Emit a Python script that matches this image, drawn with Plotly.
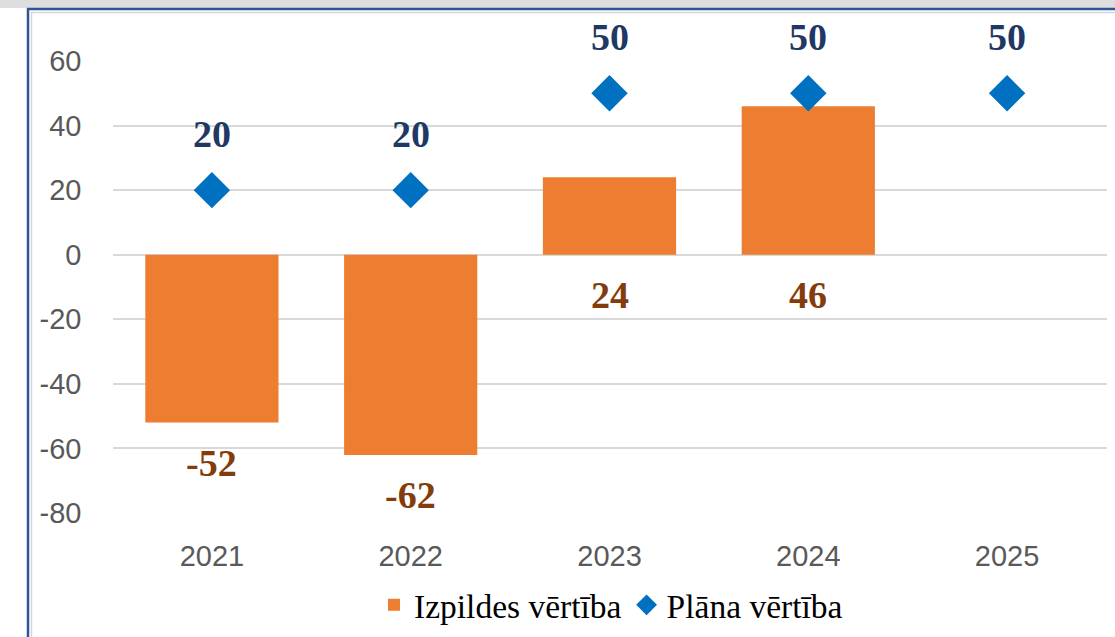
import plotly.graph_objects as go

years = ["2021", "2022", "2023", "2024", "2025"]
actual = [-52, -62, 24, 46, None]
plan = [20, 20, 50, 50, 50]
y_ticks = [-80, -60, -40, -20, 0, 20, 40, 60]
y_tick_text = ["-80", "-60", "-40", "-20", "0", "20", "40", "60"]

W, H = 1115, 637
ORANGE = "#ED7D31"
BLUE = "#0070C0"
GRID = "#D9D9D9"

fig = go.Figure()
fig.add_trace(go.Bar(
    x=years, y=actual, name="Izpildes vērtība",
    marker=dict(color=ORANGE, line=dict(width=0)),
    width=0.67,
))
fig.add_trace(go.Scatter(
    x=years, y=plan, name="Plāna vērtība", mode="markers",
    marker=dict(symbol="diamond", color=BLUE, size=28, line=dict(width=0)),
))

annotations = []
# on a category axis, annotation x is given as the category index
for i, p in enumerate(plan):
    annotations.append(dict(
        x=i, y=p, xref="x", yref="y", text=str(p), showarrow=False,
        yshift=56, font=dict(family="Liberation Serif", size=38, color="#1F3864", weight="bold"),
        xanchor="center", yanchor="middle",
    ))
for i, a in enumerate(actual):
    if a is None:
        continue
    annotations.append(dict(
        x=i, y=min(a, 0), xref="x", yref="y", text=str(a), showarrow=False,
        yshift=-40, font=dict(family="Liberation Serif", size=38, color="#843C0C", weight="bold"),
        xanchor="center", yanchor="middle",
    ))

shapes = [
    dict(type="rect", xref="paper", yref="paper", x0=0, x1=1, y0=1 - 8 / H, y1=1,
         fillcolor="#DEDEDE", line=dict(width=0), layer="below"),
    dict(type="line", xref="paper", yref="paper", x0=27 / W, x1=1, y0=1 - 9 / H, y1=1 - 9 / H,
         line=dict(color="#2F5597", width=2.5)),
    dict(type="line", xref="paper", yref="paper", x0=28 / W, x1=28 / W, y0=0, y1=1 - 8 / H,
         line=dict(color="#2F5597", width=2.5)),
    dict(type="line", xref="paper", yref="paper", x0=31 / W, x1=1, y0=1 - 12.5 / H, y1=1 - 12.5 / H,
         line=dict(color="#D0D8E4", width=1.5)),
    dict(type="line", xref="paper", yref="paper", x0=31.5 / W, x1=31.5 / W, y0=0, y1=1 - 12 / H,
         line=dict(color="#D0D8E4", width=1.5)),
]

fig.update_layout(
    width=W, height=H,
    margin=dict(l=0, r=0, t=0, b=0, pad=0, autoexpand=False),
    paper_bgcolor="white", plot_bgcolor="white",
    bargap=0.33,
    showlegend=True,
    legend=dict(
        orientation="h", x=0.548, xanchor="center", y=1 - 605 / H, yanchor="middle",
        font=dict(family="Liberation Serif", size=33.5, color="#000000"),
        itemwidth=30, tracegroupgap=0, bgcolor="rgba(0,0,0,0)",
    ),
    xaxis=dict(
        type="category", range=[-0.5, 4.5], automargin=False,
        domain=[112.5 / W, 1106.5 / W],
        showgrid=False, showline=False, zeroline=False,
        tickfont=dict(family="Liberation Sans", size=29, color="#595959"),
        ticks="", ticklabelstandoff=23,
    ),
    yaxis=dict(
        domain=[1 - 513 / H, 1 - 61 / H], automargin=False,
        range=[-80, 60], tickvals=y_ticks, ticktext=y_tick_text,
        showgrid=True, gridcolor=GRID, gridwidth=1.5,
        zeroline=True, zerolinecolor=GRID, zerolinewidth=1.5,
        showline=False,
        tickfont=dict(family="Liberation Sans", size=29, color="#595959"),
        ticks="", ticklabelstandoff=30,
    ),
    annotations=annotations,
    shapes=shapes,
)

fig.write_html(
    "out.html",
    config={"displayModeBar": False},
    post_script="document.body.style.margin='0';document.body.style.overflow='hidden';",
)
